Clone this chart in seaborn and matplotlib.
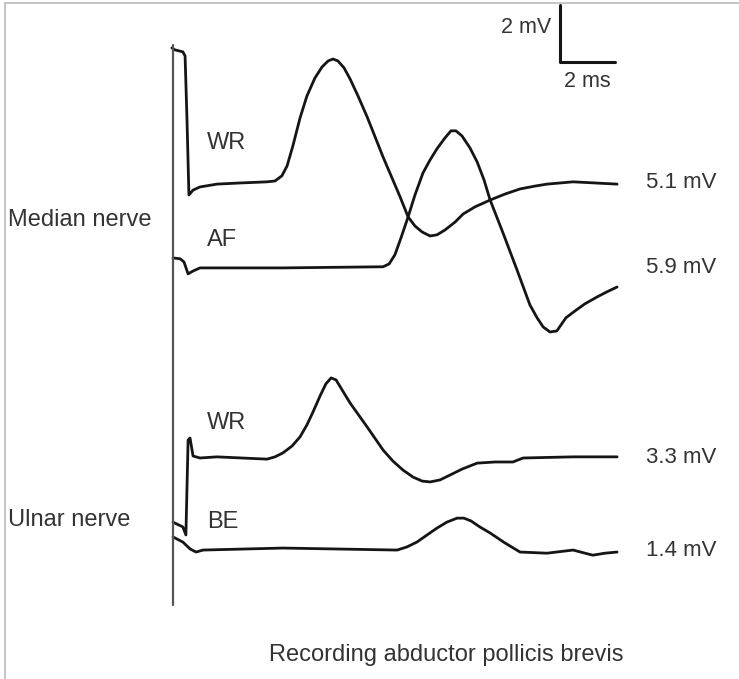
import pandas as pd
import numpy as np
import matplotlib
matplotlib.use("Agg")
import matplotlib.pyplot as plt
from matplotlib.lines import Line2D
import seaborn as sns

# traces: time in ms after stimulus, amplitude in mV
# relative to each trace's own baseline
med_wr_t = [-0.15, -0.04, 0.25, 0.33, 0.40, 0.47, 0.62, 0.87, 1.49, 2.33, 3.31, 3.60, 3.85,
            4.04, 4.25, 4.51, 4.76, 5.05, 5.31, 5.53, 5.71, 5.89, 6.11, 6.33, 6.62, 6.95,
            7.53, 8.15, 8.44, 8.69, 8.95, 9.24, 9.49, 9.78, 10.15, 10.44, 10.87, 11.42,
            11.96, 12.51, 13.05, 13.49, 14.44, 16.04]
med_wr_v = [4.74, 4.67, 4.60, 4.46, 2.21, -0.42, -0.25, -0.14, -0.04, 0.0, 0.04, 0.07, 0.25,
            0.60, 1.30, 2.28, 3.05, 3.68, 4.07, 4.28, 4.35, 4.28, 4.04, 3.65, 3.05, 2.32,
            0.91, -0.49, -1.19, -1.51, -1.72, -1.86, -1.82, -1.65, -1.37, -1.09, -0.84, -0.60,
            -0.39, -0.21, -0.11, -0.04, 0.04, -0.04]

med_af_t = [-0.11, 0.15, 0.29, 0.44, 0.62, 0.87, 3.89, 7.53, 7.75, 7.96, 8.18, 8.44, 8.69,
            8.98, 9.24, 9.49, 9.78, 10.00, 10.18, 10.40, 10.69, 10.95, 11.20, 11.42, 11.89,
            12.40, 12.87, 13.13, 13.35, 13.60, 13.85, 14.00, 14.18, 14.51, 14.87, 15.31,
            15.67, 16.04]
med_af_v = [0.35, 0.32, 0.21, -0.21, -0.11, 0.0, 0.0, 0.04, 0.14, 0.46, 1.05, 1.79, 2.56,
            3.33, 3.79, 4.18, 4.56, 4.81, 4.81, 4.63, 4.21, 3.72, 3.09, 2.39, 1.23,
            -0.07, -1.30, -1.75, -2.07, -2.25, -2.21, -2.00, -1.75, -1.51, -1.26, -1.02,
            -0.84, -0.67]

uln_wr_t = [-0.11, 0.25, 0.36, 0.44, 0.51, 0.62, 0.87, 1.49, 3.31, 3.60, 3.89, 4.22, 4.51,
            4.76, 4.98, 5.24, 5.45, 5.64, 5.82, 6.04, 6.33, 6.95, 7.53, 7.89, 8.25, 8.62,
            8.95, 9.24, 9.60, 9.96, 10.40, 10.95, 11.60, 12.25, 12.62, 14.44, 16.04]
uln_wr_v = [-2.25, -2.42, -2.70, 0.63, 0.70, 0.07, 0.0, 0.04, -0.04, 0.04, 0.18, 0.42, 0.74,
            1.16, 1.61, 2.18, 2.60, 2.81, 2.74, 2.39, 1.93, 1.09, 0.28, -0.11, -0.42, -0.67,
            -0.81, -0.84, -0.77, -0.60, -0.39, -0.18, -0.14, -0.14, 0.0, 0.04, 0.04]

uln_be_t = [-0.11, 0.25, 0.51, 0.73, 0.98, 3.89, 8.04, 8.40, 8.76, 9.13, 9.49, 9.85, 10.22,
            10.47, 10.73, 11.05, 11.42, 11.96, 12.51, 13.49, 14.44, 14.87, 15.16, 15.60, 16.04]
uln_be_v = [0.46, 0.28, 0.04, -0.07, 0.0, 0.07, 0.0, 0.11, 0.28, 0.53, 0.77, 0.98, 1.12,
            1.12, 1.02, 0.81, 0.60, 0.25, -0.07, -0.11, 0.0, -0.11, -0.18, -0.11, -0.07]

trace_names = ["WR", "AF", "WR", "BE"]
amplitudes = ["5.1 mV", "5.9 mV", "3.3 mV", "1.4 mV"]
nerves = ["Median nerve", "Ulnar nerve"]
scale_mv = 2
scale_ms = 2

# vertical stacking of the traces (mV from top of figure)
offsets = [-6.42, -9.40, -16.07, -19.30]

traces = [(med_wr_t, med_wr_v), (med_af_t, med_af_v), (uln_wr_t, uln_wr_v), (uln_be_t, uln_be_v)]
frames = []
for i, (t, v) in enumerate(traces):
    frames.append(pd.DataFrame({"t": t, "y": np.array(v) + offsets[i], "trace": i}))
df = pd.concat(frames, ignore_index=True)

sns.set_style("white")
plt.rcParams["font.family"] = ["Liberation Sans", "DejaVu Sans"]

fig = plt.figure(figsize=(7.39, 6.79), dpi=100)
ax = fig.add_axes([0, 0, 1, 1])
for i in range(4):
    sns.lineplot(data=df[df.trace == i], x="t", y="y", sort=False, estimator=None,
                 color="#151515", lw=2.0, ax=ax)
for ln in ax.lines:
    ln.set_solid_joinstyle("round")
    ln.set_solid_capstyle("round")

px_ms = 27.5
px_mv = 28.5
ax.set_xlim(-176 / px_ms, (739 - 176) / px_ms)
ax.set_ylim(-679 / px_mv, 0)
ax.axis("off")

# stimulus line
ax.plot([-0.11, -0.11], [-45 / px_mv, -605 / px_mv], color="#555555", lw=1.6)

# scale bar
sx, sy = 13.96, -62 / px_mv
ax.plot([sx, sx, sx + scale_ms], [sy + scale_mv, sy, sy], color="#151515", lw=2.2)
ax.text(sx - 0.3, sy + scale_mv - 0.8, f"{scale_mv} mV", ha="right", va="center", fontsize=15.5, color="#333333")
ax.text(sx + scale_ms / 2, sy - 0.7, f"{scale_ms} ms", ha="center", va="center", fontsize=15.5, color="#333333")

fs = 17
label_y = [-143, -240, -423, -522]
for name, ly in zip(trace_names, label_y):
    ax.text(1.13, ly / px_mv, name, ha="left", va="center", fontsize=fs, color="#333333")
for amp, off in zip(amplitudes, offsets):
    ax.text(17.1, off, amp, ha="left", va="center", fontsize=16, color="#333333")
ax.text(-6.1, -220 / px_mv, nerves[0], ha="left", va="center", fontsize=fs, color="#333333")
ax.text(-6.1, -520 / px_mv, nerves[1], ha="left", va="center", fontsize=fs, color="#333333")
ax.text(9.82, -655 / px_mv, "Recording abductor pollicis brevis", ha="center", va="center",
        fontsize=fs, color="#333333")

# thin frame on left and top
fig.add_artist(Line2D([5 / 739, 5 / 739], [0, 1 - 3 / 679], color="#bbbbbb", lw=1.2))
fig.add_artist(Line2D([5 / 739, 1], [1 - 3 / 679, 1 - 3 / 679], color="#bbbbbb", lw=1.2))

fig.savefig("out.png", dpi=100)
